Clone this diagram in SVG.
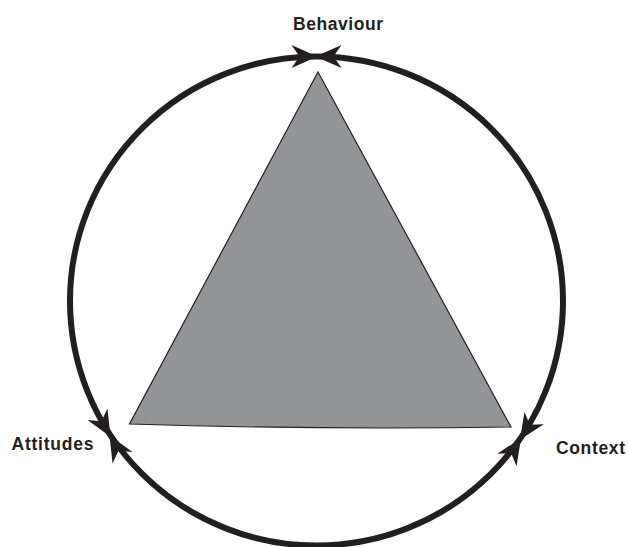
<svg xmlns="http://www.w3.org/2000/svg" width="628" height="547" viewBox="0 0 628 547">
  <defs>
    <style>
      .lbl { font-family: "Liberation Sans", Arial, sans-serif; font-weight: 700; font-size: 17.5px; fill: #231f20; }
      .ring { fill: none; stroke: #231f20; stroke-width: 6; }
      .tri { fill: #939598; stroke: #231f20; stroke-width: 1.2; stroke-linejoin: miter; }
      .head { fill: #231f20; }
    </style>
    <path id="ah" class="head" d="M1,0 L-25,-11.5 L-17,0 L-25,11.5 Z"/>
  </defs>
  <rect width="628" height="547" fill="#ffffff"/>
  <g id="triangle">
    <path class="tri" d="M318,72 L511,427 Q320,430 129.5,424 Z"/>
  </g>
  <g id="connectors">
    <ellipse class="ring" cx="316.5" cy="301" rx="246.5" ry="244.5"/>
    <use href="#ah" transform="translate(316.5,56.5) rotate(0)"/>
    <use href="#ah" transform="translate(316.5,56.5) rotate(180)"/>
    <use href="#ah" transform="translate(110,436) rotate(60)"/>
    <use href="#ah" transform="translate(110,436) rotate(240)"/>
    <use href="#ah" transform="translate(520.5,439) rotate(123)"/>
    <use href="#ah" transform="translate(520.5,439) rotate(-57)"/>
  </g>
  <g id="behaviour">
    <text class="lbl" x="293" y="29.5" textLength="90">Behaviour</text>
  </g>
  <g id="attitudes">
    <text class="lbl" x="11.5" y="450" textLength="82">Attitudes</text>
  </g>
  <g id="context">
    <text class="lbl" x="556" y="454" textLength="69">Context</text>
  </g>
</svg>
